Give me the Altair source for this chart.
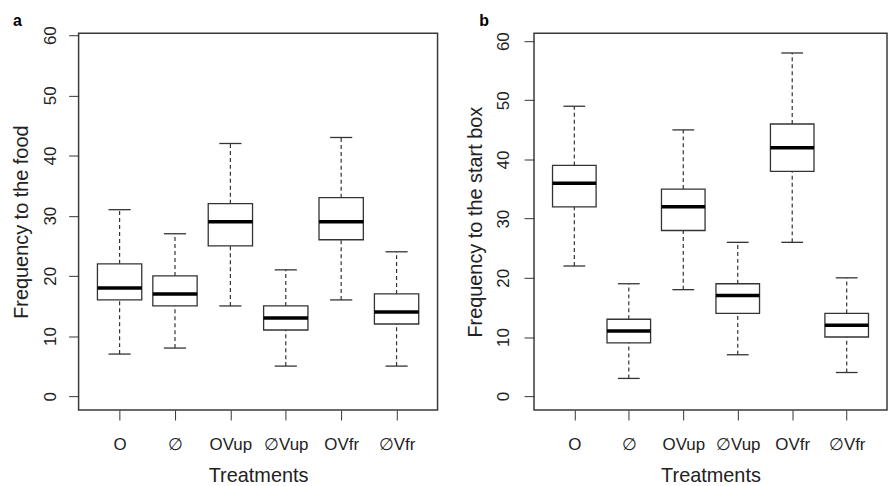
import altair as alt
import pandas as pd

categories = ["O", "∅", "OVup", "∅Vup", "OVfr", "∅Vfr"]
positions = [1, 2, 3, 4, 5, 6]

food_min = [7, 8, 15, 5, 16, 5]
food_q1 = [16, 15, 25, 11, 26, 12]
food_med = [18, 17, 29, 13, 29, 14]
food_q3 = [22, 20, 32, 15, 33, 17]
food_max = [31, 27, 42, 21, 43, 24]

start_min = [22, 3, 18, 7, 26, 4]
start_q1 = [32, 9, 28, 14, 38, 10]
start_med = [36, 11, 32, 17, 42, 12]
start_q3 = [39, 13, 35, 19, 46, 14]
start_max = [49, 19, 45, 26, 58, 20]

y_ticks = [0, 10, 20, 30, 40, 50, 60]

FONT = "Liberation Sans"
TXT = "#222222"
LINE = "#333333"


def make_df(mn, q1, md, q3, mx):
    return pd.DataFrame({"pos": positions, "cat": categories,
                         "mn": mn, "q1": q1, "md": md, "q3": q3, "mx": mx})


label_expr = "[''," + ",".join("'%s'" % c for c in categories) + "][datum.value]"


def panel(df, ytitle, ptitle, ydomain, width, height, tdx, toff, lab_pad, tit_pad):
    xscale = alt.Scale(domain=[0.26, 6.74], nice=False, zero=False)
    yscale = alt.Scale(domain=ydomain, nice=False, zero=False)
    xaxis = alt.Axis(values=positions, labelExpr=label_expr, title="Treatments",
                     grid=False, domain=False, tickSize=10, tickColor=LINE,
                     labelFont=FONT, labelFontSize=17, labelColor=TXT, labelPadding=17,
                     titleFont=FONT, titleFontSize=20, titleFontWeight="normal",
                     titleColor=TXT, titlePadding=13, labelOverlap=False)
    yaxis = alt.Axis(values=y_ticks, title=ytitle, grid=False, domain=False,
                     tickSize=10, tickColor=LINE, labelAngle=270, labelAlign="center",
                     labelBaseline="bottom", labelFont=FONT, labelFontSize=17,
                     labelColor=TXT, labelPadding=lab_pad, titleFont=FONT,
                     titleFontSize=20, titleFontWeight="normal", titleColor=TXT,
                     titlePadding=tit_pad, labelOverlap=False)
    base = alt.Chart(df).transform_calculate(
        xl="datum.pos - 0.4", xr="datum.pos + 0.4",
        cl="datum.pos - 0.2", cr="datum.pos + 0.2")

    def X(f):
        return alt.X(f + ":Q", scale=xscale, axis=xaxis)

    def Y(f):
        return alt.Y(f + ":Q", scale=yscale, axis=yaxis)

    whisk_hi = base.mark_rule(color=LINE, strokeWidth=1.2, strokeDash=[4, 3]).encode(
        x=X("pos"), y=Y("q3"), y2="mx:Q")
    whisk_lo = base.mark_rule(color=LINE, strokeWidth=1.2, strokeDash=[4, 3]).encode(
        x=X("pos"), y=Y("mn"), y2="q1:Q")
    box = base.mark_rect(fill="white", stroke=LINE, strokeWidth=1.3).encode(
        x=X("xl"), x2="xr:Q", y=Y("q1"), y2="q3:Q")
    med = base.mark_rule(color="black", strokeWidth=3.5).encode(
        x=X("xl"), x2="xr:Q", y=Y("md"))
    cap_hi = base.mark_rule(color=LINE, strokeWidth=1.3).encode(
        x=X("cl"), x2="cr:Q", y=Y("mx"))
    cap_lo = base.mark_rule(color=LINE, strokeWidth=1.3).encode(
        x=X("cl"), x2="cr:Q", y=Y("mn"))

    return alt.layer(whisk_hi, whisk_lo, box, med, cap_hi, cap_lo).properties(
        width=width, height=height,
        title=alt.TitleParams(text=ptitle, anchor="start", dx=tdx, fontSize=16,
                              fontWeight="bold", font=FONT, color="black",
                              frame="group", offset=toff, baseline="alphabetic"))


pa = panel(make_df(food_min, food_q1, food_med, food_q3, food_max),
           "Frequency to the food", "a", [-2.31, 60.33], 361, 379, -66, -16, 9, 10)
pb = panel(make_df(start_min, start_q1, start_med, start_q3, start_max),
           "Frequency to the start box", "b", [-2.35, 61.34], 355, 379, -55, -10, 12, 9)

chart = alt.hconcat(pa, pb, spacing=26).properties(
    padding={"left": 3, "top": 2, "right": 0, "bottom": 0}
).configure(background="white").configure_view(stroke="#3a3a3a", strokeWidth=1.5)

chart.save("out.html", embed_options={"renderer": "svg", "actions": False})
